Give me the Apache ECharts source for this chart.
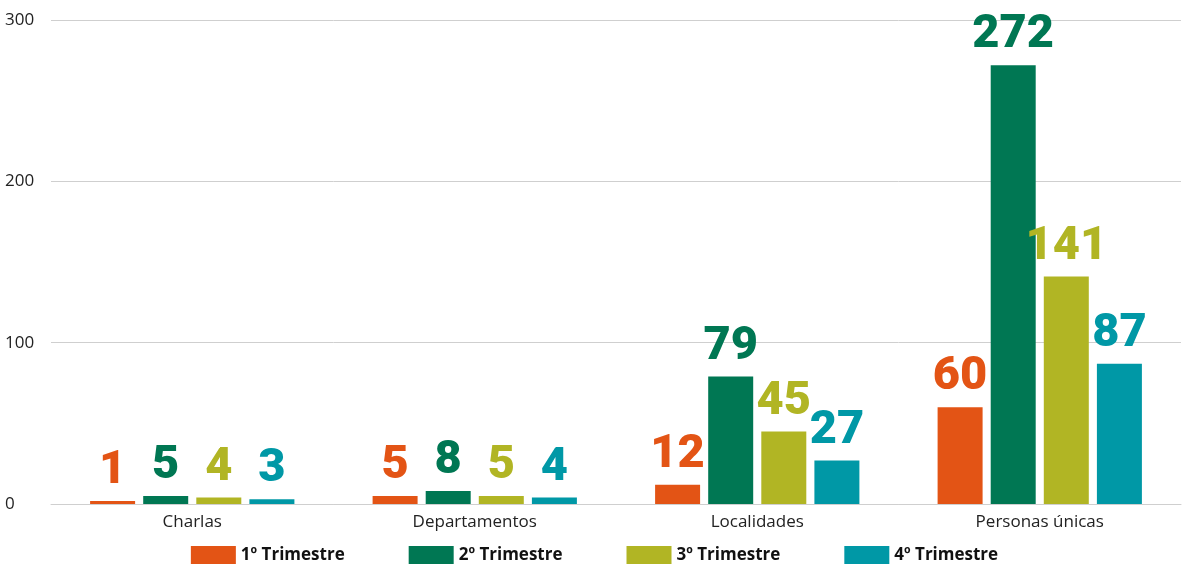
<!DOCTYPE html>
<html>
<head>
<meta charset="utf-8">
<script src="https://cdn.jsdelivr.net/npm/echarts@6/dist/echarts.min.js"></script>
<style>
  html, body { margin: 0; padding: 0; background: #fff; }
  #chart { width: 1189px; height: 564px; }
</style>
</head>
<body>
<div id="chart"></div>
<script>
const categories = ['Charlas', 'Departamentos', 'Localidades', 'Personas únicas']
const seriesNames = ['1º Trimestre', '2º Trimestre', '3º Trimestre', '4º Trimestre']
const q1 = [1, 5, 12, 60]
const q2 = [5, 8, 79, 272]
const q3 = [4, 5, 45, 141]
const q4 = [3, 4, 27, 87]
const yTicks = [0, 100, 200, 300]

const colors = ['#E35415', '#007753', '#B1B524', '#0098A6']
const values = [q1, q2, q3, q4]

const chart = echarts.init(document.getElementById('chart'))

chart.setOption({
  animation: false,
  color: colors,
  grid: { left: 51, right: 8, top: 20, bottom: 60 },
  legend: {
    top: 541,
    left: 'center',
    itemWidth: 45,
    itemHeight: 18,
    itemGap: 64,
    icon: 'rect',
    textStyle: { fontFamily: 'Open Sans', fontSize: 17, fontWeight: 'bold', color: '#111' },
    data: seriesNames
  },
  xAxis: {
    type: 'category',
    data: categories,
    axisTick: { show: false },
    axisLine: { lineStyle: { color: '#cfcfcf', width: 1 } },
    axisLabel: { fontFamily: 'Open Sans', fontSize: 17, color: '#222', margin: 10 }
  },
  yAxis: {
    type: 'value',
    min: yTicks[0],
    max: yTicks[yTicks.length - 1],
    interval: 100,
    axisLine: { show: false },
    axisTick: { show: false },
    splitLine: { lineStyle: { color: '#cfcfcf' } },
    axisLabel: { fontFamily: 'Open Sans', fontSize: 17, color: '#222', align: 'left', margin: 46 }
  },
  series: seriesNames.map((name, i) => ({
    name: name,
    type: 'bar',
    data: values[i],
    barWidth: 45,
    barGap: '18%',
    barMinHeight: 3,
    label: {
      show: true,
      position: 'top',
      distance: 6,
      color: colors[i],
      fontFamily: 'Roboto',
      fontWeight: 900,
      fontSize: 47
    }
  }))
})
</script>
</body>
</html>
